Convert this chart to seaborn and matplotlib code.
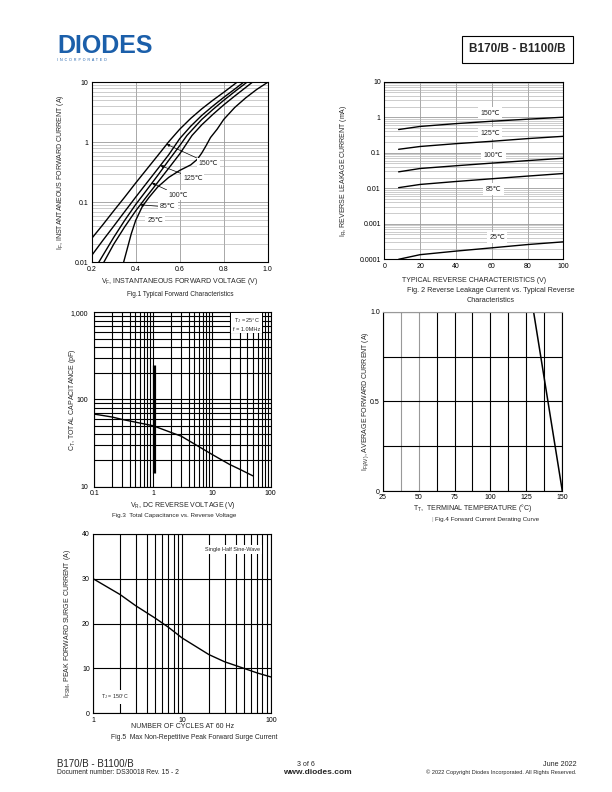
import numpy as np
import matplotlib
matplotlib.use('Agg')
import matplotlib.pyplot as plt
import seaborn as sns
from matplotlib.ticker import FixedLocator, NullFormatter, LogLocator

sns.set_theme(style='white')
plt.rcParams['font.family'] = ['Liberation Sans', 'DejaVu Sans']
plt.rcParams['mathtext.default'] = 'regular'

# ---- Fig.1 forward characteristics (V, A) per junction temperature
vf_150 = [0.20, 0.25, 0.30, 0.35, 0.40, 0.45, 0.50, 0.55, 0.60, 0.65, 0.70, 0.75, 0.80, 0.86]
if_150 = [0.025, 0.042, 0.072, 0.122, 0.21, 0.355, 0.60, 1.02, 1.65, 2.5, 3.6, 5.0, 6.8, 10]
vf_125 = [0.20, 0.25, 0.30, 0.35, 0.40, 0.45, 0.50, 0.55, 0.60, 0.65, 0.70, 0.75, 0.80, 0.85, 0.89]
if_125 = [0.013, 0.023, 0.040, 0.07, 0.122, 0.21, 0.36, 0.62, 1.15, 1.85, 2.8, 4.0, 5.6, 7.7, 10]
vf_100 = [0.232, 0.30, 0.35, 0.40, 0.45, 0.50, 0.55, 0.60, 0.633, 0.70, 0.75, 0.80, 0.85, 0.905]
if_100 = [0.01, 0.026, 0.05, 0.092, 0.16, 0.28, 0.50, 0.88, 1.3, 2.4, 3.5, 5.0, 7.0, 10]
vf_85 = [0.255, 0.30, 0.35, 0.40, 0.45, 0.50, 0.55, 0.60, 0.656, 0.70, 0.75, 0.80, 0.85, 0.93]
if_85 = [0.01, 0.02, 0.039, 0.072, 0.125, 0.215, 0.37, 0.64, 1.3, 1.95, 2.9, 4.2, 5.9, 10]
vf_25 = [0.345, 0.36, 0.38, 0.40, 0.43, 0.46, 0.50, 0.55, 0.60, 0.65, 0.68, 0.70, 0.72, 0.74,
         0.77, 0.80, 0.85, 0.90, 0.95, 1.00]
if_25 = [0.01, 0.016, 0.03, 0.05, 0.085, 0.12, 0.18, 0.26, 0.34, 0.42, 0.52, 0.66, 0.88, 1.2,
         1.65, 2.4, 3.8, 5.5, 7.6, 10]
fig1_labels = ['150℃', '125℃', '100℃', '85℃', '25℃']
fig1_tip_v = [0.541, 0.512, 0.474, 0.421, None]
fig1_txt_v = [0.729, 0.660, 0.592, 0.547, 0.488]
fig1_txt_i = [0.45, 0.254, 0.132, 0.0835, 0.049]

# ---- Fig.2 reverse leakage (V, mA)
vr2 = [8, 20, 40, 60, 80, 100]
ir_150 = [0.45, 0.55, 0.66, 0.77, 0.88, 1.0]
ir_125 = [0.125, 0.15, 0.18, 0.21, 0.25, 0.29]
ir_100 = [0.029, 0.036, 0.043, 0.051, 0.06, 0.07]
ir_85 = [0.0104, 0.0128, 0.0155, 0.0185, 0.022, 0.026]
ir_25 = [0.0001, 0.000135, 0.00017, 0.00021, 0.00026, 0.00031]
fig2_labels = ['150℃', '125℃', '100℃', '85℃', '25℃']
fig2_txt_v = [59, 59, 61, 61, 63]
fig2_txt_i = [1.28, 0.35, 0.086, 0.0095, 0.00041]

# ---- Fig.3 capacitance (V, pF)
vr3 = [0.1, 0.2, 0.3, 0.5, 1, 2, 3, 5, 10, 20, 30, 50]
ct3 = [68, 63, 59, 55, 50, 42, 38, 31, 23.5, 18, 15.8, 13.3]
bar3_x = [1.05]
bar3_lo = [14.2]
bar3_hi = [249]

# ---- Fig.4 derating (degC, A)
tt4 = [45, 130, 150]
if4 = [1.0, 1.0, 0.0]

# ---- Fig.5 surge current (cycles, A)
n5 = [1, 2, 3, 5, 7, 10, 20, 30, 50, 70, 100]
ifsm5 = [30, 26.5, 24, 21.2, 19.2, 16.8, 13.1, 11.5, 10.0, 9.0, 8.1]

W, H = 612, 792
fig = plt.figure(figsize=(W / 100, H / 100), dpi=100)


def box(l, t, r, b):
    return fig.add_axes([l / W, 1 - b / H, (r - l) / W, (b - t) / H])


def ftext(x, y, s, **kw):
    kw.setdefault('ha', 'center')
    kw.setdefault('va', 'center')
    fig.text(x / W, 1 - y / H, s, **kw)


def style(ax, lab=5, pad=2.5):
    for s in ax.spines.values():
        s.set_color('black')
        s.set_linewidth(0.8)
    ax.tick_params(which='both', length=0, labelsize=lab, pad=pad, colors='black')
    ax.set_axisbelow(True)


def curve(ax, x, y, lw=1.0):
    sns.lineplot(x=x, y=y, ax=ax, color='black', lw=lw, estimator=None, sort=False)


# ================= Fig.1
ax1 = box(91.7, 82.3, 267.7, 262.3)
ax1.set_yscale('log')
curves1 = [(vf_150, if_150), (vf_125, if_125), (vf_100, if_100), (vf_85, if_85), (vf_25, if_25)]
for v, i in curves1:
    curve(ax1, v, i)
ax1.set_xlim(0.2, 1.0)
ax1.set_ylim(0.01, 10)
style(ax1)
ax1.set_xticks([0.2, 0.4, 0.6, 0.8, 1.0])
ax1.set_xticklabels(['0.2', '0.4', '0.6', '0.8', '1.0'])
ax1.set_yticks([0.01, 0.1, 1, 10])
ax1.set_yticklabels(['0.01', '0.1', '1', '10'])
ax1.yaxis.set_minor_locator(LogLocator(base=10, subs=np.arange(2, 10)))
ax1.yaxis.set_minor_formatter(NullFormatter())
ax1.grid(True, which='major', axis='both', color='#9a9a9a', lw=0.6)
ax1.grid(True, which='minor', axis='y', color='#b0b0b0', lw=0.45)
for lab, tv, xv, yv, (cv, ci) in zip(fig1_labels, fig1_tip_v, fig1_txt_v, fig1_txt_i, curves1):
    bb = dict(boxstyle='square,pad=0.25', fc='white', ec='none')
    if tv is None:
        ax1.text(xv, yv, lab, fontsize=5, ha='center', va='center', bbox=bb)
    else:
        ti = 10 ** np.interp(tv, cv, np.log10(ci))
        ax1.annotate(lab, xy=(tv, ti), xytext=(xv, yv), fontsize=5, ha='center', va='center',
                     bbox=bb, arrowprops=dict(arrowstyle='-|>', lw=0.5, color='black',
                                              mutation_scale=4, shrinkA=0, shrinkB=0))
ax1.set_xlabel('V$_F$, INSTANTANEOUS FORWARD VOLTAGE (V)', fontsize=5, va='center')
ax1.xaxis.set_label_coords(0.5, -0.109)
ax1.set_ylabel('I$_F$, INSTANTANEOUS FORWARD CURRENT (A)', fontsize=5, va='center')
ax1.yaxis.set_label_coords(-0.176, 0.5)
ftext(180, 295, 'Fig.1 Typical Forward Characteristics', fontsize=4.7)

# ================= Fig.2
ax2 = box(384.3, 81.7, 563.3, 259.3)
ax2.set_yscale('log')
for ir in [ir_150, ir_125, ir_100, ir_85, ir_25]:
    curve(ax2, vr2, ir)
ax2.set_xlim(0, 100)
ax2.set_ylim(0.0001, 10)
style(ax2)
ax2.set_xticks([0, 20, 40, 60, 80, 100])
ax2.set_yticks([0.0001, 0.001, 0.01, 0.1, 1, 10])
ax2.set_yticklabels(['0.0001', '0.001', '0.01', '0.1', '1', '10'])
ax2.yaxis.set_minor_locator(LogLocator(base=10, subs=np.arange(2, 10)))
ax2.yaxis.set_minor_formatter(NullFormatter())
ax2.grid(True, which='major', axis='both', color='#9a9a9a', lw=0.6)
ax2.grid(True, which='minor', axis='y', color='#b0b0b0', lw=0.45)
for lab, xv, yv in zip(fig2_labels, fig2_txt_v, fig2_txt_i):
    ax2.text(xv, yv, lab, fontsize=5, ha='center', va='center',
             bbox=dict(boxstyle='square,pad=0.35', fc='white', ec='none'))
ax2.set_xlabel('TYPICAL REVERSE CHARACTERISTICS (V)', fontsize=5, va='center')
ax2.xaxis.set_label_coords(0.5, -0.12)
ax2.set_ylabel('I$_R$, REVERSE LEAKAGE CURRENT (mA)', fontsize=5, va='center')
ax2.yaxis.set_label_coords(-0.23, 0.5)
ftext(491, 296, 'Fig. 2 Reverse Leakage Current vs. Typical Reverse\nCharacteristics',
      fontsize=5.2, linespacing=1.6)

# ================= Fig.3
ax3 = box(94.3, 312.3, 270.7, 486.7)
ax3.set_xscale('log')
ax3.set_yscale('log')
curve(ax3, vr3, ct3)
ax3.vlines(bar3_x, bar3_lo, bar3_hi, color='black', lw=2.3)
ax3.set_xlim(0.1, 100)
ax3.set_ylim(10, 1000)
style(ax3, pad=4.5)
ax3.tick_params(axis='x', pad=2.5)
ax3.set_xticks([0.1, 1, 10, 100])
ax3.set_xticklabels(['0.1', '1', '10', '100'])
ax3.set_yticks([10, 100, 1000])
ax3.set_yticklabels(['10', '100', '1,000'])
for a in (ax3.xaxis, ax3.yaxis):
    a.set_minor_locator(LogLocator(base=10, subs=np.arange(2, 10)))
    a.set_minor_formatter(NullFormatter())
ax3.grid(True, which='both', color='black', lw=0.8)
ax3.text(0.864, 0.933, 'T$_J$ = 25°C\nf = 1.0MHz', transform=ax3.transAxes, fontsize=4,
         ha='center', va='center', linespacing=1.4,
         bbox=dict(boxstyle='square,pad=0.3', fc='white', ec='none'))
ax3.set_xlabel('V$_R$, DC REVERSE VOLTAGE (V)', fontsize=5, va='center')
ax3.xaxis.set_label_coords(0.5, -0.105)
ax3.set_ylabel('C$_T$, TOTAL CAPACITANCE (pF)', fontsize=5, va='center')
ax3.yaxis.set_label_coords(-0.126, 0.5)
ftext(174, 515, 'Fig.3  Total Capacitance vs. Reverse Voltage', fontsize=4.5)

# ================= Fig.4
ax4 = box(382.7, 311.7, 562.3, 491)
curve(ax4, tt4, if4, lw=1.1)
ax4.set_xlim(25, 150)
ax4.set_ylim(0, 1.0)
style(ax4, pad=2)
ax4.spines['top'].set_color('#999999')
ax4.set_xticks([25, 50, 75, 100, 125, 150])
ax4.set_yticks([0, 0.5, 1.0])
ax4.set_yticklabels(['0', '0.5', '1.0'])
ax4.xaxis.set_minor_locator(FixedLocator([37.5, 62.5, 87.5, 112.5, 137.5]))
ax4.yaxis.set_minor_locator(FixedLocator([0.25, 0.75]))
ax4.grid(True, which='both', color='black', lw=0.8)
# the 37.5 and 50 lines are printed lighter in the datasheet
ax4.xaxis.get_major_ticks()[1].gridline.set_color('#999999')
ax4.xaxis.get_minor_ticks()[0].gridline.set_color('#999999')
ax4.set_xlabel('T$_T$,  TERMINAL TEMPERATURE (°C)', fontsize=5, va='center')
ax4.xaxis.set_label_coords(0.5, -0.097)
ax4.set_ylabel('I$_{F(AV)}$, AVERAGE FORWARD CURRENT (A)', fontsize=5, va='center')
ax4.yaxis.set_label_coords(-0.097, 0.5)
ftext(487, 519, 'Fig.4 Forward Current Derating Curve', fontsize=4.5)
ftext(432, 519, '|', fontsize=4.5, color='#aaaaaa')

# ================= Fig.5
ax5 = box(93.3, 534, 271, 713.3)
ax5.set_xscale('log')
curve(ax5, n5, ifsm5)
ax5.set_xlim(1, 100)
ax5.set_ylim(0, 40)
style(ax5)
ax5.set_xticks([1, 10, 100])
ax5.set_xticklabels(['1', '10', '100'])
ax5.set_yticks([0, 10, 20, 30, 40])
ax5.xaxis.set_minor_locator(LogLocator(base=10, subs=np.arange(2, 10)))
ax5.xaxis.set_minor_formatter(NullFormatter())
ax5.grid(True, which='both', color='black', lw=0.8)
ax5.text(0.783, 0.914, 'Single Half Sine-Wave', transform=ax5.transAxes, fontsize=4,
         ha='center', va='center', bbox=dict(boxstyle='square,pad=0.4', fc='white', ec='none'))
ax5.text(0.122, 0.091, 'T$_J$ = 150°C', transform=ax5.transAxes, fontsize=3.8,
         ha='center', va='center', bbox=dict(boxstyle='square,pad=0.4', fc='white', ec='none'))
ax5.set_xlabel('NUMBER OF CYCLES AT 60 Hz', fontsize=5, va='center')
ax5.xaxis.set_label_coords(0.5, -0.075)
ax5.set_ylabel('I$_{FSM}$, PEAK FORWARD SURGE CURRENT (A)', fontsize=5, va='center')
ax5.yaxis.set_label_coords(-0.148, 0.5)
ftext(194, 737.3, 'Fig.5  Max Non-Repetitive Peak Forward Surge Current', fontsize=4.9)

# ================= header / footer
ftext(57, 46, 'DIODES', fontsize=18, fontweight='bold', color='#1b5faa', ha='left')
ftext(57, 60, 'I  N  C  O  R  P  O  R  A  T  E  D', fontsize=2.6, color='#1b5faa', ha='left')
ftext(517.5, 49.5, 'B170/B - B1100/B', fontsize=8.5, fontweight='bold',
      bbox=dict(boxstyle='square,pad=0.6', fc='white', ec='black', lw=0.8))
ftext(57, 764, 'B170/B - B1100/B', fontsize=7, ha='left')
ftext(57, 773, 'Document number: DS30018 Rev. 15 - 2', fontsize=4.9, ha='left')
ftext(306, 764, '3 of 6', fontsize=5)
ftext(317, 773, 'www.diodes.com', fontsize=6, fontweight='bold')
ftext(577, 764, 'June 2022', fontsize=5.2, ha='right')
ftext(577, 772, '© 2022 Copyright Diodes Incorporated. All Rights Reserved.', fontsize=4.1, ha='right')

fig.savefig('out.png', dpi=100)
